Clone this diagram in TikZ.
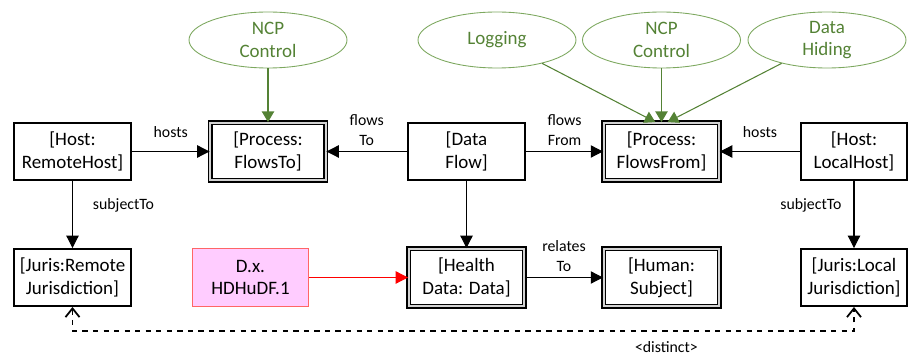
\documentclass[tikz,border=0pt]{standalone}
\usepackage{fontspec}
\setmainfont{Carlito}
\usetikzlibrary{arrows.meta,shapes.geometric}
\definecolor{ncpgreen}{RGB}{84,130,53}
\definecolor{ncpedge}{RGB}{125,168,95}
\definecolor{dxpink}{RGB}{255,204,255}
\definecolor{dxedge}{RGB}{255,102,102}
\begin{document}
\begin{tikzpicture}[semithick, >={Triangle[length=7pt,width=7pt]},
        every node/.style={font=\fontsize{10.8}{13}\selectfont, align=center},
        entity/.style={draw, line width=1.1pt, minimum width=2.34cm, minimum height=1.14cm, inner sep=0pt},
        process/.style={draw, line width=0.8pt, double=gray!35, double distance=1pt,
            minimum width=2.31cm, minimum height=1.15cm, inner sep=0pt},
        concept/.style={ellipse, draw=ncpedge, line width=0.5pt, text=ncpgreen,
            minimum width=3.16cm, minimum height=1.12cm, inner sep=0pt},
        dxbox/.style={draw=dxedge, fill=dxpink, line width=0.6pt, minimum width=2.32cm, minimum height=1.16cm, inner sep=0pt},
        edgetext/.style={font=\fontsize{9}{11.3}\selectfont}]
    \useasboundingbox (0,0) rectangle (18.18,7.16);
    % upper row
    \node[entity] (remotehost) at (1.45,4.13) {[Host:\\RemoteHost]};
    \node[process] (flowsto) at (5.36,4.13) {[Process:\\FlowsTo]};
    \node[entity] (dataflow) at (9.33,4.13) {[Data\\Flow]};
    \node[process] (flowsfrom) at (13.23,4.13) {[Process:\\FlowsFrom]};
    \node[entity, minimum width=2.12cm] (localhost) at (17.08,4.13) {[Host:\\LocalHost]};
    % lower row
    \node[entity] (remotejuris) at (1.45,1.61) {[Juris:Remote\\Jurisdiction]};
    \node[dxbox] (dxnode) at (5.01,1.61) {D.x.\\HDHuDF.1};
    \node[process] (healthdata) at (9.33,1.61) {[Health\\Data: Data]};
    \node[process] (humansubj) at (13.23,1.61) {[Human:\\Subject]};
    \node[entity, minimum width=2.12cm] (localjuris) at (17.08,1.61) {[Juris:Local\\Jurisdiction]};
    % concepts
    \node[concept] (ncpleft) at (5.36,6.36) {NCP\\Control};
    \node[concept] (logging) at (9.94,6.36) {Logging};
    \node[concept] (ncpright) at (13.23,6.36) {NCP\\Control};
    \node[concept] (hiding) at (16.54,6.36) {Data\\Hiding};

    \draw[->] (remotehost) -- node[edgetext, above=4pt] {hosts} (flowsto);
    \draw[->] (dataflow) -- node[edgetext, above] {flows\\To} (flowsto);
    \draw[->] (dataflow) -- node[edgetext, above] {flows\\From} (flowsfrom);
    \draw[->] (localhost) -- node[edgetext, above=4pt] {hosts} (flowsfrom);
    \draw[->] (remotehost) -- node[edgetext, pos=0.36, right=8pt] {subjectTo} (remotejuris);
    \draw[->] (localhost) -- node[edgetext, pos=0.36, left=3.5pt] {subjectTo} (localjuris);
    \draw[->] (dataflow) -- (healthdata);
    \draw[->] (healthdata) -- node[edgetext, above] {relates\\To} (humansubj);
    \draw[->, red] (dxnode) -- (healthdata);

    \begin{scope}[ncpgreen, >={Triangle[length=6pt,width=7pt]}]
        \draw[->] (ncpleft) -- (flowsto);
        \draw[->] (logging) -- ([xshift=-3.5pt]flowsfrom.north);
        \draw[->] (ncpright) -- (flowsfrom);
        \draw[->] (hiding) -- ([xshift=3.5pt]flowsfrom.north);
    \end{scope}

    \draw[{Straight Barb[length=5pt,width=8pt]}-{Straight Barb[length=5pt,width=8pt]}, dashed, line width=1pt]
        (remotejuris.south) -- ++(0,-0.48) -| node[edgetext, pos=0.38, below=2pt] {<distinct>} (localjuris.south);
\end{tikzpicture}
\end{document}
